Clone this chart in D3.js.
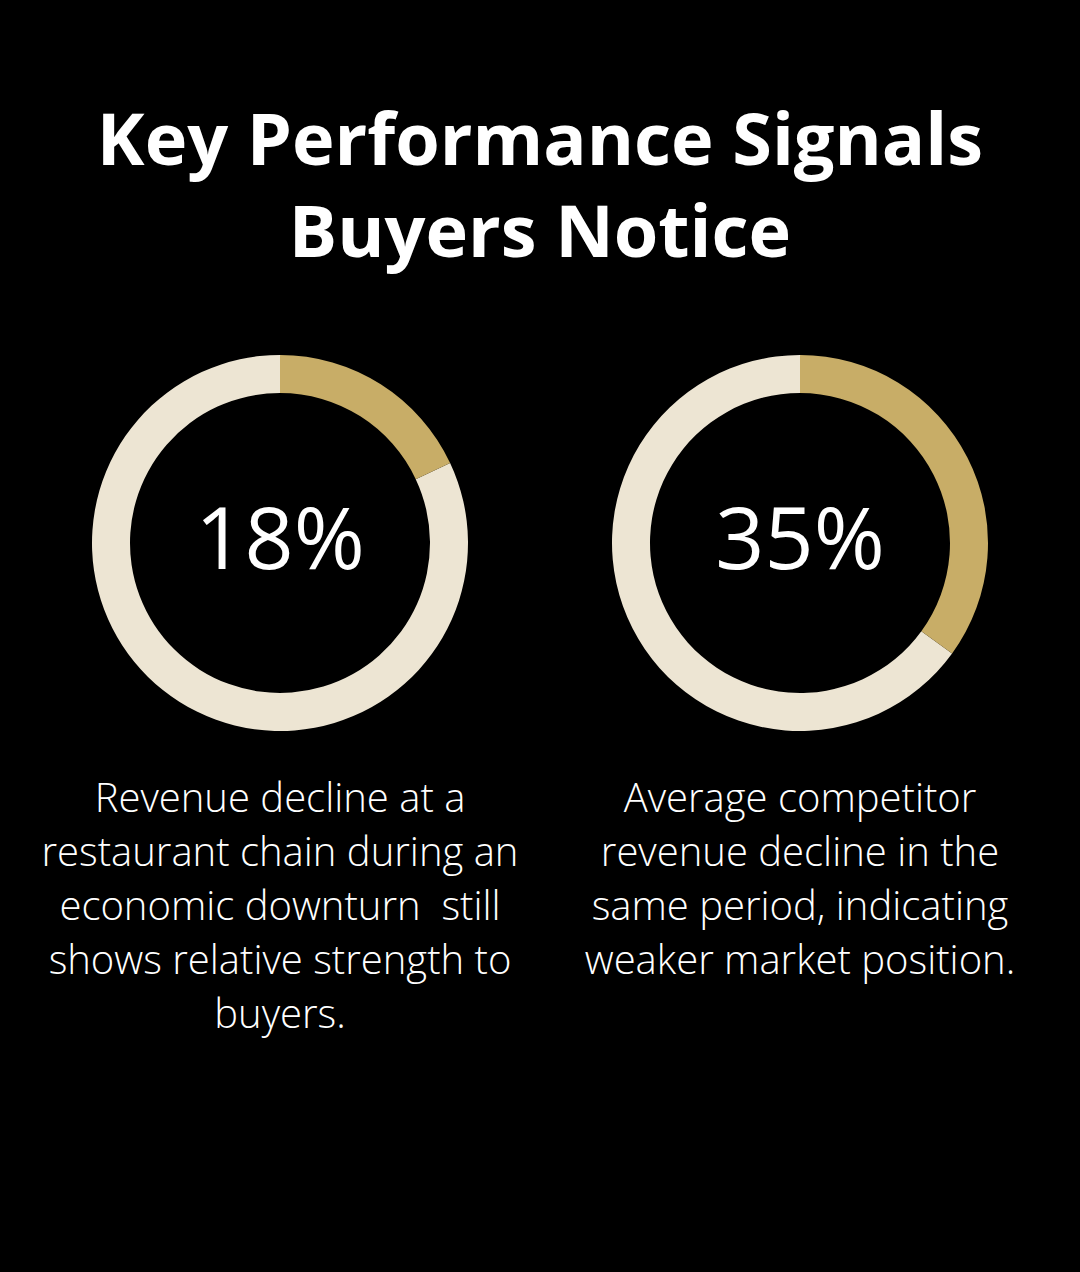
<!DOCTYPE html>
<html><head><meta charset="utf-8">
<script src="https://cdn.jsdelivr.net/npm/d3@7"></script>
<style>html,body{margin:0;padding:0;background:#000;}svg{display:block;}</style>
</head><body>
<script>
const titleLines = ["Key Performance Signals", "Buyers Notice"];
const values = [18, 35];
const valueLabels = ["18%", "35%"];
const descriptions = [
  ["Revenue decline at a", "restaurant chain during an", "economic downturn  still", "shows relative strength to", "buyers."],
  ["Average competitor", "revenue decline in the", "same period, indicating", "weaker market position."]
];

const W = 1080, H = 1272;
const svg = d3.select("body").append("svg").attr("width", W).attr("height", H);
svg.append("rect").attr("width", W).attr("height", H).attr("fill", "#000");

svg.append("g").selectAll("text").data(titleLines).join("text")
  .attr("x", 540).attr("y", (d, i) => 165 + i * 92)
  .attr("text-anchor", "middle")
  .attr("font-family", "'Open Sans', sans-serif").attr("font-weight", 700)
  .attr("font-size", 72).attr("fill", "#fff")
  .text(d => d);

const cx = d3.scalePoint().domain(d3.range(values.length)).range([280, 800]);
const pct = d3.scaleLinear().domain([0, 100]).range([0, 2 * Math.PI]);
const arc = d3.arc().innerRadius(150).outerRadius(188);

const g = svg.selectAll("g.donut").data(values).join("g")
  .attr("class", "donut")
  .attr("transform", (d, i) => `translate(${cx(i)},543)`);

g.append("path").attr("fill", "#EDE5D3")
  .attr("d", d => arc({startAngle: pct(d), endAngle: pct(100)}));
g.append("path").attr("fill", "#C8AD67")
  .attr("d", d => arc({startAngle: 0, endAngle: pct(d)}));

g.append("text").attr("x", 0).attr("y", 26)
  .attr("text-anchor", "middle")
  .attr("font-family", "'Open Sans', sans-serif").attr("font-weight", 400)
  .attr("font-size", 86).attr("fill", "#fff")
  .text((d, i) => valueLabels[i]);

descriptions.forEach((lines, i) => {
  svg.append("g").selectAll("text").data(lines).join("text")
    .attr("x", cx(i)).attr("y", (d, j) => 812 + j * 54)
    .attr("text-anchor", "middle")
    .attr("font-family", "'Open Sans', sans-serif").attr("font-weight", 300)
    .attr("font-size", 40).attr("fill", "#fff")
    .style("white-space", "pre")
    .text(d => d);
});
</script>
</body></html>
